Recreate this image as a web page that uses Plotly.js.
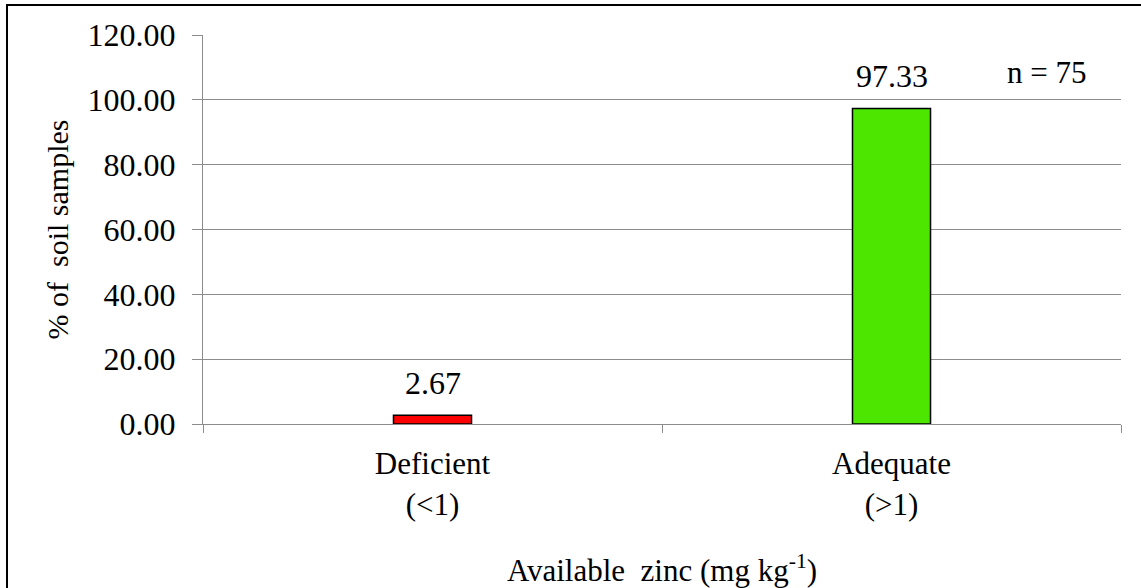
<!DOCTYPE html>
<html>
<head>
<meta charset="utf-8">
<script src="https://cdn.plot.ly/plotly-3.0.1.min.js"></script>
<style>
  html, body { margin: 0; padding: 0; background: #fff; }
  #wrap { position: relative; width: 1141px; height: 588px; overflow: hidden; }
  #chart { width: 1141px; height: 588px; }
  #frame {
    position: absolute; left: 6px; top: 4px; width: 1200px; height: 700px;
    border-left: 2px solid #000; border-top: 2px solid #000; pointer-events: none;
  }
</style>
</head>
<body>
<div id="wrap">
  <div id="chart"></div>
  <div id="frame"></div>
</div>
<script>
// Zinc status classes and share of soil samples (%)
const categories = ["Deficient<br>(&lt;1)", "Adequate<br>(&gt;1)"];
const percentSamples = [2.67, 97.33];
const barColors = ["#ff0000", "#4de600"];
const sampleNote = "n = 75";
const yTicks = [0, 20, 40, 60, 80, 100, 120];

const serif = "'Liberation Serif', 'Times New Roman', serif";
const gridGray = "#8c8c8c";

const trace = {
  type: "bar",
  x: categories,
  y: percentSamples,
  width: 0.17,
  marker: { color: barColors, line: { color: "#000", width: 1.5 } },
  hoverinfo: "skip"
};

// value labels above each bar
const valueLabels = categories.map((c, i) => ({
  x: c, y: percentSamples[i], xref: "x", yref: "y",
  text: percentSamples[i].toFixed(2),
  showarrow: false, yanchor: "bottom", yshift: 12,
  font: { family: serif, size: 32, color: "#000" }
}));

const plotW = 1141 - 203 - 20, plotH = 588 - 35 - 164;

const layout = {
  width: 1141, height: 588,
  margin: { l: 203, r: 20, t: 35, b: 164 },
  paper_bgcolor: "#fff", plot_bgcolor: "#fff",
  showlegend: false,
  font: { family: serif, size: 32, color: "#000" },
  xaxis: {
    type: "category",
    tickson: "boundaries",
    ticks: "outside", ticklen: 8, tickcolor: gridGray, tickwidth: 1,
    ticklabelstandoff: 12,
    showline: true, linecolor: gridGray, linewidth: 1,
    showgrid: false, zeroline: false,
    tickfont: { family: serif, size: 31, color: "#000" },
    title: {
      text: "Available  zinc (mg kg<sup>-1</sup>)",
      font: { family: serif, size: 31, color: "#000" },
      standoff: 40
    },
    automargin: false
  },
  yaxis: {
    range: [0, 120],
    tickvals: yTicks,
    tickformat: ".2f",
    ticks: "outside", ticklen: 10, tickcolor: gridGray, tickwidth: 1,
    ticklabelstandoff: 10,
    showline: true, linecolor: gridGray, linewidth: 1,
    showgrid: true, gridcolor: gridGray, gridwidth: 1,
    zeroline: false,
    tickfont: { family: serif, size: 32, color: "#000" },
    title: {
      text: "% of  soil samples",
      font: { family: serif, size: 30, color: "#000" },
      standoff: 10
    },
    automargin: false
  },
  annotations: valueLabels.concat([{
    x: (1046 - 203) / plotW, y: (424 - 72) / plotH,
    xref: "paper", yref: "paper", xanchor: "center", yanchor: "middle",
    text: sampleNote, showarrow: false,
    font: { family: serif, size: 31, color: "#000" }
  }])
};

Plotly.newPlot("chart", [trace], layout, { displayModeBar: false, staticPlot: true });
</script>
</body>
</html>
